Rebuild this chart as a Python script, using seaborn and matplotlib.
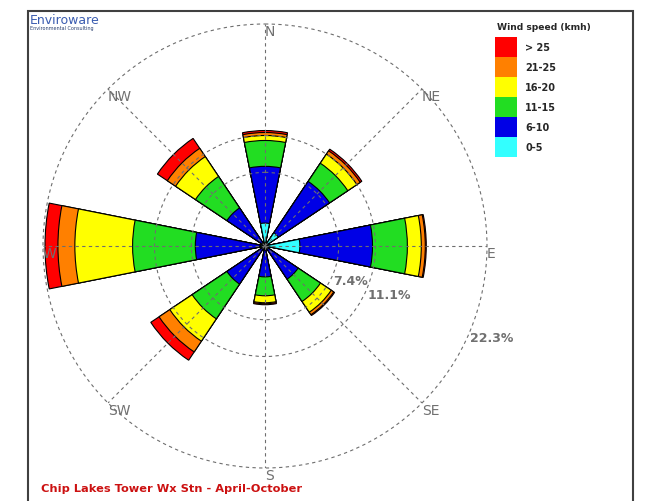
import numpy as np
import pandas as pd
import matplotlib
matplotlib.use("Agg")
import matplotlib.pyplot as plt
from matplotlib.patches import Rectangle
import seaborn as sns

# wind directions (compass sectors, clockwise from north)
directions = ["N", "NE", "E", "SE", "S", "SW", "W", "NW"]
speed_classes = ["0-5", "6-10", "11-15", "16-20", "21-25", "> 25"]
speed_colors = ["#33ffff", "#0000e6", "#22dd22", "#ffff00", "#ff8000", "#ff0000"]

# frequency (%) of each speed class per direction
s_0_5 = [2.3, 1.6, 3.5, 0.4, 0.4, 0.3, 0.5, 0.4]
s_6_10 = [5.7, 6.2, 7.3, 3.6, 2.7, 4.3, 6.5, 4.2]
s_11_15 = [2.6, 2.2, 3.5, 2.7, 1.9, 4.2, 6.3, 3.8]
s_16_20 = [0.5, 1.1, 1.4, 1.3, 0.7, 2.7, 5.8, 2.4]
s_21_25 = [0.3, 0.4, 0.4, 0.3, 0.1, 1.3, 1.7, 1.0]
s_gt_25 = [0.2, 0.2, 0.1, 0.1, 0.1, 1.0, 1.3, 1.2]
class_values = [s_0_5, s_6_10, s_11_15, s_16_20, s_21_25, s_gt_25]

ring_values = [7.4, 11.1, 22.3]
title = "Chip Lakes Tower Wx Stn - April-October"

theta = np.deg2rad(np.arange(len(directions)) * 45.0)

# long table with cumulative totals; outer classes drawn first, inner on top
rows = []
cum = np.zeros(len(directions))
for name, vals in zip(speed_classes, class_values):
    cum = cum + np.array(vals)
    for d, t, c in zip(directions, theta, cum):
        rows.append({"direction": d, "theta": t, "speed": name, "cumulative": c})
df = pd.DataFrame(rows)

sns.set_style("white")
plt.rcParams["font.family"] = ["DejaVu Sans"]

fig = plt.figure(figsize=(6.47, 5.02), dpi=100)
ax = fig.add_axes([43 / 647, 33 / 502, 444 / 647, 444 / 502], projection="polar")

sns.barplot(data=df, x="theta", y="cumulative", hue="speed",
            hue_order=speed_classes[::-1],
            palette=dict(zip(speed_classes, speed_colors)),
            native_scale=True, dodge=False, width=0.5, errorbar=None,
            saturation=1, edgecolor="black", linewidth=0.8,
            legend=False, ax=ax)

ax.set_theta_zero_location("N")
ax.set_theta_direction(-1)
ax.set_xlim(0, 2 * np.pi)
ax.set_ylim(0, ring_values[-1])
ax.set_xticks(theta)
ax.set_xticklabels([])
ax.set_yticks(ring_values)
ax.set_yticklabels([])
ax.set_xlabel("")
ax.set_ylabel("")
ax.spines["polar"].set_visible(False)
ax.set_axisbelow(False)
ax.grid(True, color="#6e6e6e", linestyle=(0, (3, 3)), linewidth=0.8)
for gl in ax.yaxis.get_gridlines():
    gl.set_clip_on(False)

for lab, t in zip(directions, theta):
    ax.text(t, ring_values[-1], lab, ha="left", va="top", color="#707070", fontsize=10)
for r in ring_values:
    ax.text(np.deg2rad(112.5), r, f"{r}%", ha="left", va="top",
            color="#707070", fontsize=9, fontweight="bold")

# legend
fig.text(497 / 647, 1 - 27 / 502, "Wind speed (kmh)", fontsize=6.6, fontweight="bold",
         va="center")
for i, (name, col) in enumerate(zip(speed_classes[::-1], speed_colors[::-1])):
    y0 = 38 + i * 20
    fig.patches.append(Rectangle((495 / 647, 1 - (y0 + 20) / 502), 22 / 647, 20 / 502,
                                 transform=fig.transFigure, facecolor=col, edgecolor="none"))
    fig.text(525 / 647, 1 - (y0 + 10) / 502, name, fontsize=7, fontweight="bold",
             va="center")

# frame and logo
fig.patches.append(Rectangle((28 / 647, -0.05), 605 / 647, 0.05 + 1 - 12 / 502,
                             transform=fig.transFigure, fill=False,
                             edgecolor="#404040", linewidth=1.5))
fig.text(30 / 647, 1 - 21 / 502, "Enviroware", color="#3a5cb0", fontsize=9, va="center")
fig.text(30 / 647, 1 - 29 / 502, "Environmental Consulting", color="#2a4070",
         fontsize=3.5, va="center")

fig.text(41 / 647, 1 - 489 / 502, title, color="#cc1111", fontsize=8.2,
         fontweight="bold", va="center")

fig.savefig("out.png", dpi=100)
